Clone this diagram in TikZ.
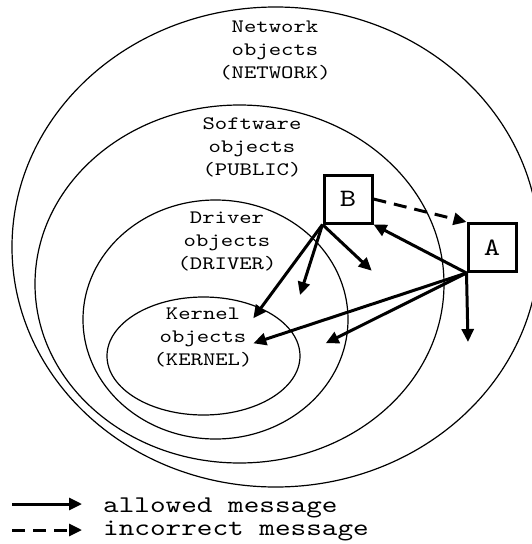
\documentclass[tikz,border=0pt]{standalone}
\usepackage{fontspec}
\newfontfamily\cour{lmmono10-regular.otf}[FakeStretch=1.24]
\usetikzlibrary{shapes.geometric,arrows.meta}
\begin{document}
\begin{tikzpicture}[x=1pt,y=-1pt,
  region/.style={draw,ellipse,line width=1.2pt,inner sep=0pt},
  rlabel/.style={anchor=north,align=center,inner sep=0pt,font=\cour\fontsize{19}{23}\selectfont},
  obj/.style={draw,line width=3pt,minimum width=48pt,minimum height=48pt,inner sep=0pt,font=\cour\fontsize{25}{28}\selectfont},
  msg/.style={line width=3pt,-{Triangle[length=13pt,width=12pt]}},
  badmsg/.style={msg,dash pattern=on 13pt off 8pt},
  legtext/.style={anchor=base west,inner sep=0pt,font=\cour\fontsize{24}{26}\selectfont}]
\useasboundingbox (0,0) rectangle (532,544);
\clip (0,0) rectangle (532,544);
% regions
\node[region,minimum width=527.2pt,minimum height=480pt] (net) at (275.6,247) {};
\node[region,minimum width=409pt,minimum height=358pt] (sw) at (239.5,284) {};
\node[region,minimum width=265pt,minimum height=239pt] (drv) at (215.5,319.5) {};
\node[region,minimum width=193pt,minimum height=118pt] (ker) at (203.5,356) {};
% labels
\node[rlabel] (netl) at (275,21) {Network\\objects\\(NETWORK)};
\node[rlabel] (swl) at (252,117) {Software\\objects\\(PUBLIC)};
\node[rlabel] (drvl) at (227,212) {Driver\\objects\\(DRIVER)};
\node[rlabel] (kerl) at (203,308) {Kernel\\objects\\(KERNEL)};
% objects
\node[obj] (B) at (348,199) {B};
\node[obj] (A) at (492,247.5) {A};
% targets
\coordinate (t1) at (253.3,318.3);
\coordinate (t2) at (300,295);
\coordinate (t3) at (371.7,270.7);
\coordinate (t4) at (253.3,343.3);
\coordinate (t5) at (325.7,343.3);
\coordinate (t6) at (468,342);
% messages
\draw[msg] (B.south west) -- (t1);
\draw[msg] (B.south west) -- (t2);
\draw[msg] (B.south west) -- (t3);
\draw[msg] (A.south west) -- (B.south east);
\draw[msg] (A.south west) -- (t4);
\draw[msg] (A.south west) -- (t5);
\draw[msg] (A.south west) -- (t6);
\draw[badmsg] (B.east) -- (A.north west);
% legend
\coordinate (l1s) at (12,504);
\coordinate (l1e) at (82,504);
\coordinate (l2s) at (12,530);
\coordinate (l2e) at (82,530);
\draw[msg] (l1s) -- (l1e);
\draw[badmsg] (l2s) -- (l2e);
\node[legtext] (leg1) at (103,512) {allowed message};
\node[legtext] (leg2) at (103,535) {incorrect message};
\end{tikzpicture}
\end{document}
